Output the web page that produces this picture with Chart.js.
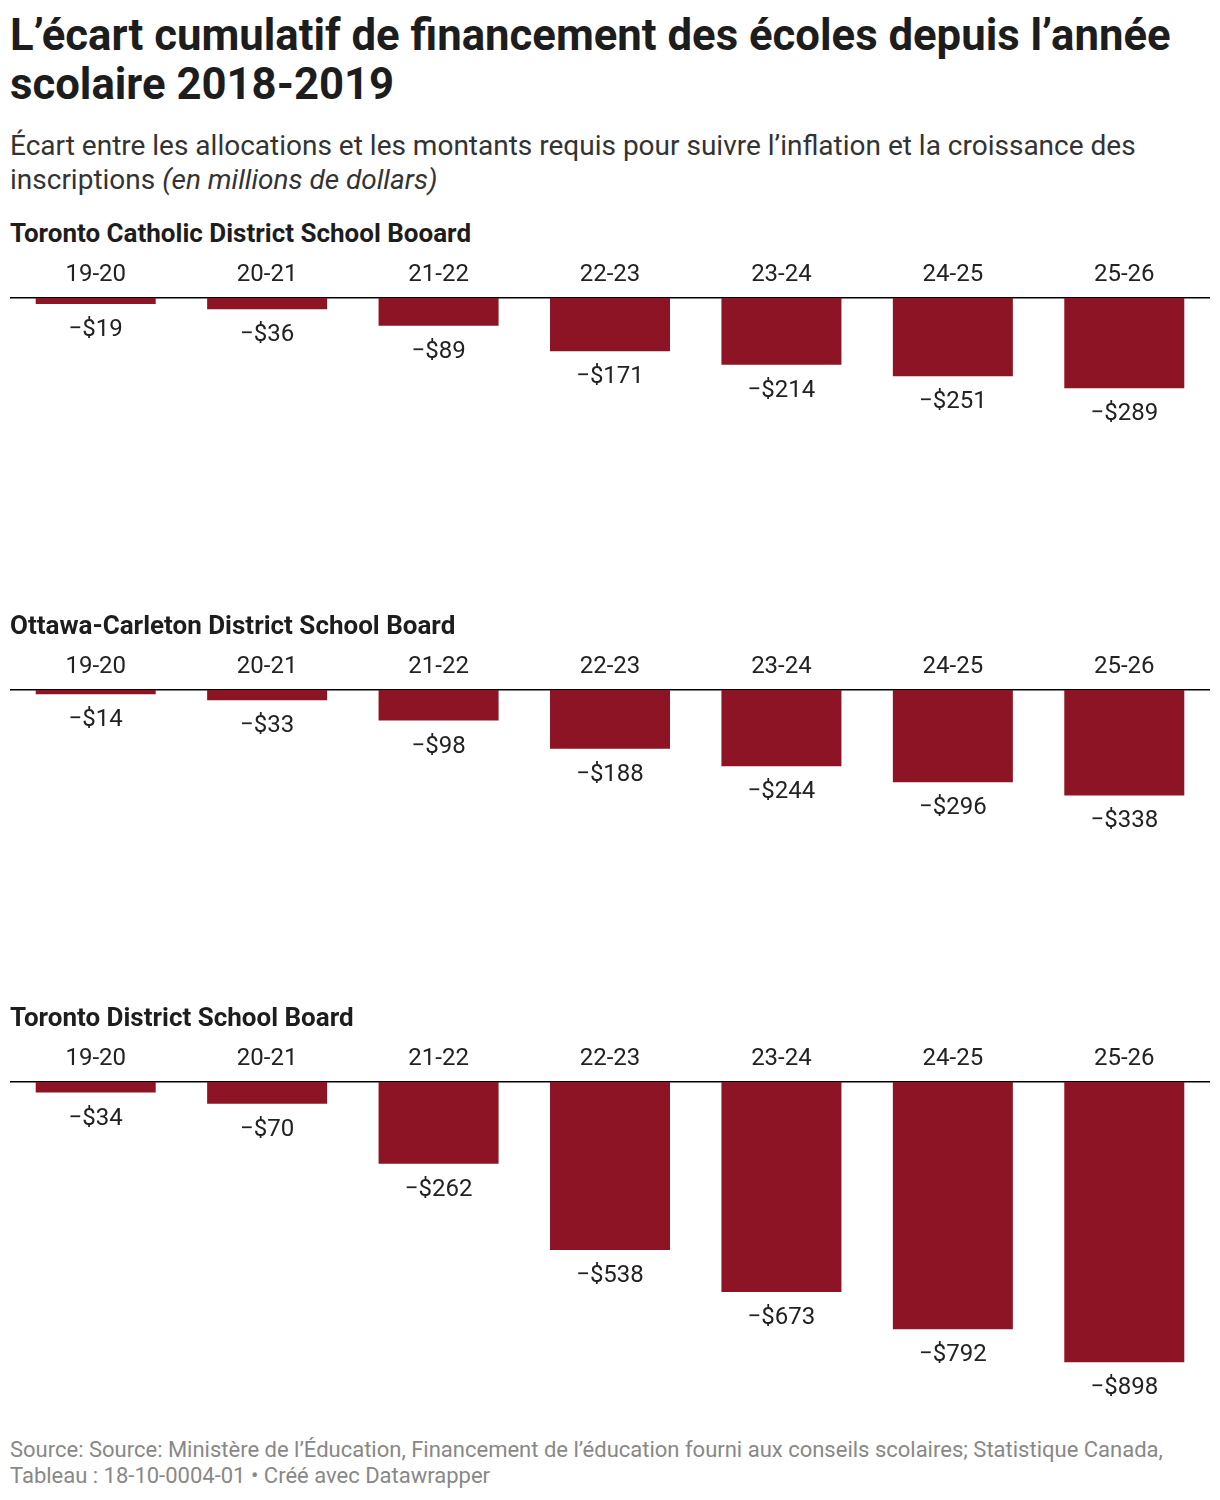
<!DOCTYPE html>
<html>
<head>
<meta charset="utf-8">
<script src="https://cdn.jsdelivr.net/npm/chart.js@4"></script>
<style>
  body { margin: 0; background: #fff; font-family: Roboto, sans-serif; color: #1d1d1d; }
  .abs { position: absolute; left: 10px; }
  .title { top: 11px; font-size: 43.7px; font-weight: 700; line-height: 49px; width: 1205px; }
  .sub { top: 129px; font-size: 28px; line-height: 34px; color: #333; width: 1200px; }
  .panel { font-size: 26px; font-weight: 700; line-height: 30px; }
  .foot { top: 1437px; font-size: 22px; line-height: 26px; color: #888; width: 1200px; white-space: nowrap; }
  canvas { position: absolute; left: 10px; }
</style>
</head>
<body>
<div class="abs title">L’écart cumulatif de financement des écoles depuis l’année scolaire 2018-2019</div>
<div class="abs sub">Écart entre les allocations et les montants requis pour suivre l’inflation et la croissance des inscriptions <i>(en millions de dollars)</i></div>

<div class="abs panel" style="top:218px">Toronto Catholic District School Booard</div>
<canvas id="c1" width="1200" height="380" style="top:255px"></canvas>
<div class="abs panel" style="top:610px">Ottawa-Carleton District School Board</div>
<canvas id="c2" width="1200" height="380" style="top:647px"></canvas>
<div class="abs panel" style="top:1002px">Toronto District School Board</div>
<canvas id="c3" width="1200" height="380" style="top:1039px"></canvas>

<div class="abs foot">Source: Source: Ministère de l’Éducation, Financement de l’éducation fourni aux conseils scolaires; Statistique Canada,<br>Tableau : 18-10-0004-01 • Créé avec Datawrapper</div>

<script>
const years = ['19-20', '20-21', '21-22', '22-23', '23-24', '24-25', '25-26'];
const tcdsb = [-19, -36, -89, -171, -214, -251, -289];
const ocdsb = [-14, -33, -98, -188, -244, -296, -338];
const tdsb = [-34, -70, -262, -538, -673, -792, -898];

const barColor = '#8c1424';

const valueLabels = {
    id: 'valueLabels',
    afterDatasetsDraw(chart) {
        const ctx = chart.ctx;
        const meta = chart.getDatasetMeta(0);
        const data = chart.data.datasets[0].data;
        ctx.save();
        ctx.font = '24px Roboto';
        ctx.fillStyle = '#222';
        ctx.textAlign = 'center';
        ctx.textBaseline = 'middle';
        meta.data.forEach((bar, i) => {
            ctx.fillText('\u2212$' + Math.abs(data[i]), bar.x, bar.y + 26);
        });
        ctx.restore();
    }
};

function makeChart(id, values) {
    new Chart(document.getElementById(id), {
        type: 'bar',
        data: {
            labels: years,
            datasets: [{
                data: values,
                backgroundColor: barColor,
                barPercentage: 0.7,
                categoryPercentage: 1.0
            }]
        },
        options: {
            responsive: false,
            animation: false,
            layout: { padding: 0 },
            plugins: { legend: { display: false }, tooltip: { enabled: false } },
            scales: {
                x: {
                    position: 'top',
                    grid: { color: 'transparent', drawTicks: false },
                    border: { display: true, color: '#000', width: 1.5 },
                    ticks: { font: { family: 'Roboto', size: 24 }, color: '#222', padding: 9 },
                    afterFit(scale) { scale.height = 43; }
                },
                y: {
                    display: false,
                    min: -1080,
                    max: 0
                }
            }
        },
        plugins: [valueLabels]
    });
}

makeChart('c1', tcdsb);
makeChart('c2', ocdsb);
makeChart('c3', tdsb);
</script>
</body>
</html>
